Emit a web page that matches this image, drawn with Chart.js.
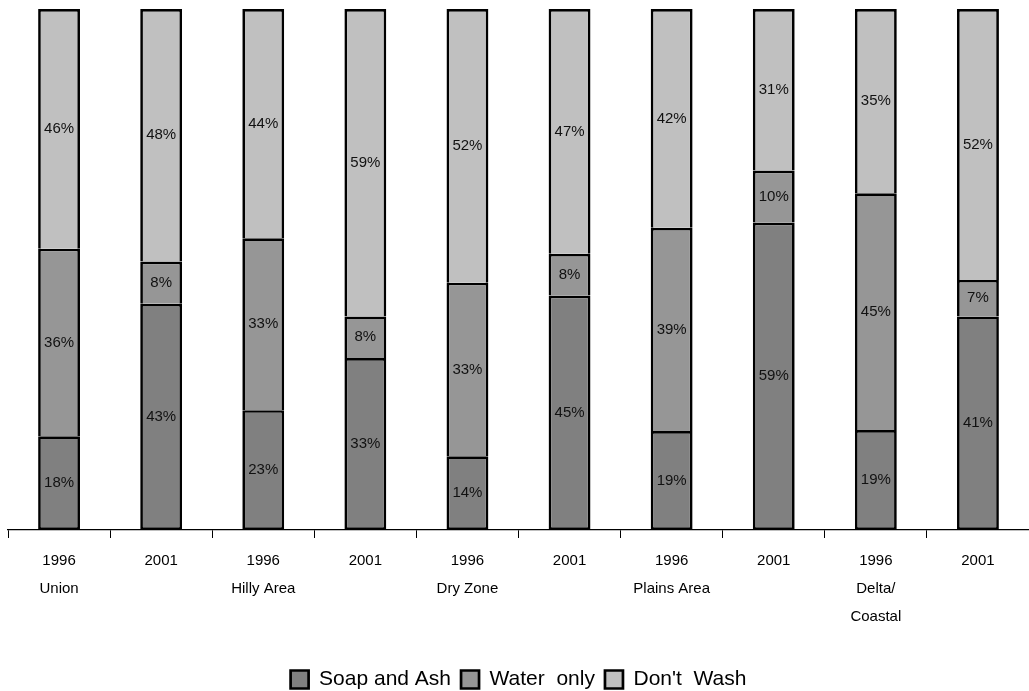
<!DOCTYPE html>
<html lang="en">
<head>
  <meta charset="UTF-8" />
  <title>Hand washing after defecation</title>
  <script src="https://cdn.jsdelivr.net/npm/chart.js"></script>
  <style>
    html, body { margin: 0; padding: 0; background: #fff; }
    #wrap { width: 1029px; height: 691px; }
  </style>
</head>
<body>
  <div id="wrap"><canvas id="washChart"></canvas></div>
  <script>
    // categories: year + area (multi-line labels)
    const categories = [
      ['1996', 'Union'], ['2001'],
      ['1996', 'Hilly Area'], ['2001'],
      ['1996', 'Dry Zone'], ['2001'],
      ['1996', 'Plains Area'], ['2001'],
      ['1996', 'Delta/', 'Coastal'], ['2001']
    ];

    // percentages as printed on the bars
    const soapAndAsh = [18, 43, 23, 33, 14, 45, 19, 59, 19, 41];
    const waterOnly  = [36, 8, 33, 8, 33, 8, 39, 10, 45, 7];
    const dontWash   = [46, 48, 44, 59, 52, 47, 42, 31, 35, 52];

    // 100% stacked: each bar scaled to its own total
    const totals = soapAndAsh.map((v, i) => v + waterOnly[i] + dontWash[i]);
    const share = arr => arr.map((v, i) => v / totals[i] * 100);

    const FONT = '"Liberation Sans", Arial, sans-serif';

    const barLabels = {
      id: 'barLabels',
      afterDatasetsDraw(chart) {
        const ctx = chart.ctx;
        ctx.save();
        ctx.font = '15px ' + FONT;
        ctx.fillStyle = '#111';
        ctx.textAlign = 'center';
        ctx.textBaseline = 'middle';
        chart.data.datasets.forEach((ds, di) => {
          chart.getDatasetMeta(di).data.forEach((bar, i) => {
            ctx.fillText(ds.raw[i] + '%', bar.x, (bar.y + bar.base) / 2);
          });
        });
        ctx.restore();
      }
    };

    const ctx = document.getElementById('washChart').getContext('2d');
    new Chart(ctx, {
      type: 'bar',
      data: {
        labels: categories,
        datasets: [
          { label: 'Soap and Ash', raw: soapAndAsh, data: share(soapAndAsh), backgroundColor: '#808080', borderSkipped: false },
          { label: 'Water  only', raw: waterOnly, data: share(waterOnly), backgroundColor: '#969696', borderSkipped: 'bottom' },
          { label: "Don't  Wash", raw: dontWash, data: share(dontWash), backgroundColor: '#c0c0c0', borderSkipped: 'bottom' }
        ].map(d => Object.assign(d, {
          borderColor: '#000',
          borderWidth: 2.7,
          categoryPercentage: 1,
          barPercentage: 0.41
        }))
      },
      options: {
        responsive: true,
        maintainAspectRatio: false,
        animation: false,
        layout: { padding: { top: 9, left: 8, right: 0, bottom: -9 } },
        scales: {
          x: {
            stacked: true,
            border: { display: true, color: '#000', width: 1.3 },
            grid: { offset: true, drawOnChartArea: false, color: '#000', tickLength: 8 },
            ticks: {
              color: '#000',
              padding: 9,
              maxRotation: 0,
              autoSkip: false,
              font: { family: FONT, size: 15, lineHeight: 1.8667 }
            },
            afterFit(scale) { scale.height += 19; }
          },
          y: { stacked: true, display: false, min: 0, max: 100 }
        },
        plugins: {
          legend: {
            position: 'bottom',
            labels: {
              color: '#000',
              boxWidth: 18,
              boxHeight: 18,
              padding: 10,
              font: { family: FONT, size: 21 }
            }
          },
          tooltip: { enabled: false }
        }
      },
      plugins: [barLabels]
    });
  </script>
</body>
</html>
